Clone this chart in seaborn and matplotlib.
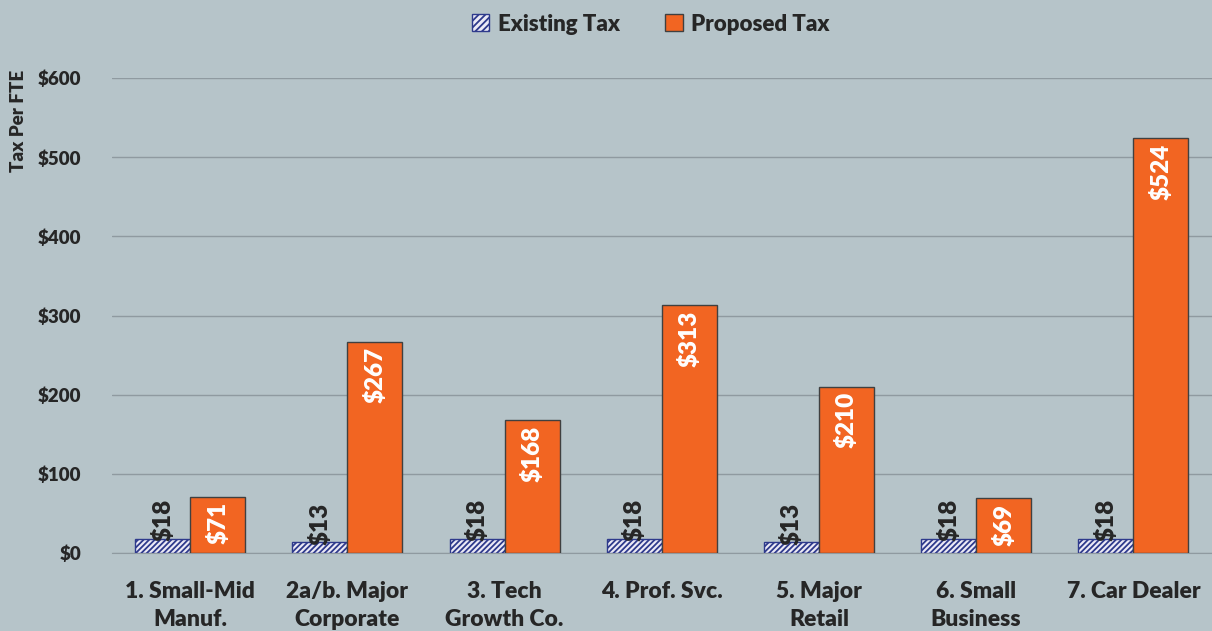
import matplotlib
matplotlib.use("Agg")
import matplotlib.pyplot as plt
import seaborn as sns
import pandas as pd
from matplotlib.patches import Patch

categories = ["1. Small-Mid\nManuf.", "2a/b. Major\nCorporate", "3. Tech\nGrowth Co.",
              "4. Prof. Svc.", "5. Major\nRetail", "6. Small\nBusiness", "7. Car Dealer"]
existing_tax = [18, 13, 18, 18, 13, 18, 18]
proposed_tax = [71, 267, 168, 313, 210, 69, 524]
series = ["Existing Tax", "Proposed Tax"]
y_ticks = [0, 100, 200, 300, 400, 500, 600]

df = pd.DataFrame({
    "category": categories * 2,
    "series": [series[0]] * len(categories) + [series[1]] * len(categories),
    "value": existing_tax + proposed_tax,
})

bg = "#b6c4c9"
navy = "#2e3a8c"
orange = "#f26522"
ink = "#262626"
sns.set_style("white")
plt.rcParams["font.family"] = ["Lato", "DejaVu Sans"]
plt.rcParams["hatch.color"] = navy
plt.rcParams["hatch.linewidth"] = 1.3
W = "heavy"

fig = plt.figure(figsize=(12.12, 6.31), dpi=100, facecolor=bg)
ax = fig.add_axes([0.092, 0.124, 0.908, 0.752], facecolor=bg)

ax = sns.barplot(data=df, x="category", y="value", hue="series",
                 palette=["#eceaf6", orange], saturation=1, width=0.7, ax=ax,
                 edgecolor="#404040", linewidth=1.0, legend=False, zorder=3)

for bar in ax.containers[0]:
    bar.set_hatch("//////")
    bar.set_edgecolor(navy)

for bar, v in zip(ax.containers[0], existing_tax):
    ax.text(bar.get_x() + bar.get_width() / 2, v - 3, f"${v}", rotation=90,
            ha="center", va="bottom", fontsize=17.5, fontweight=W, color=ink, zorder=4)
for bar, v in zip(ax.containers[1], proposed_tax):
    ax.text(bar.get_x() + bar.get_width() / 2, v - 7, f"${v}", rotation=90,
            ha="center", va="top", fontsize=17.5, fontweight=W, color="white", zorder=4)

ax.set_ylim(0, 600)
ax.set_yticks(y_ticks)
ax.set_yticklabels([f"${t}" for t in y_ticks], fontsize=13.5, fontweight=W, color=ink)
ax.tick_params(axis="y", pad=22, length=0)
ax.tick_params(axis="x", length=0, pad=20)
for lbl in ax.get_xticklabels():
    lbl.set_fontsize(16.5)
    lbl.set_fontweight(W)
    lbl.set_color(ink)
    lbl.set_linespacing(1.45)
ax.grid(axis="y", color="#8f9aa0", linewidth=1.0, zorder=0)
for side in ["top", "right", "left"]:
    ax.spines[side].set_visible(False)
ax.spines["bottom"].set_color("#8f9aa0")
ax.set_xlabel("")
ax.set_ylabel("Tax Per FTE", fontsize=13.5, fontweight=W, color=ink)
ax.yaxis.set_label_coords(-0.077, 0.91)

handles = [Patch(facecolor="#eceaf6", edgecolor=navy, hatch="/////"),
           Patch(facecolor=orange, edgecolor="#404040")]
fig.legend(handles, series, loc="upper center", bbox_to_anchor=(0.537, 1.01), ncol=2,
           frameon=False, prop={"size": 16, "weight": W}, handlelength=0.8,
           handleheight=0.8, columnspacing=2.0, handletextpad=0.4)

fig.savefig("out.png", dpi=100, facecolor=bg)
